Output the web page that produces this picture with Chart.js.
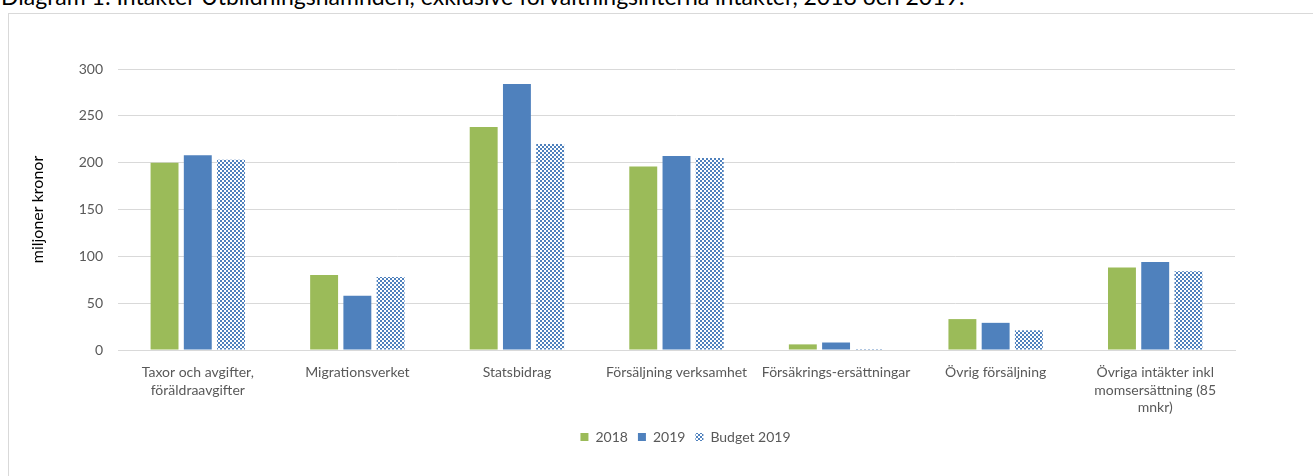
<!DOCTYPE html>
<html><head><meta charset="utf-8">
<script src="https://cdn.jsdelivr.net/npm/chart.js@4"></script>
<style>
html,body{margin:0;padding:0;background:#fff;overflow:hidden;width:1313px;height:476px;}
#title{position:absolute;left:1px;top:-18px;font:23px Lato,"Open Sans",sans-serif;color:#000;white-space:nowrap;}
#box{position:absolute;left:8px;top:13px;width:1320px;height:480px;border:1px solid #d9d9d9;box-sizing:border-box;}
#wrap{position:absolute;left:0;top:0;width:1313px;height:476px;}
</style></head>
<body>
<div id="title">Diagram 1: Intäkter Utbildningsnämnden, exklusive förvaltningsinterna intäkter, 2018 och 2019.</div>
<div id="box"></div>
<div id="wrap"><canvas id="c"></canvas></div>
<script>
const categories = [
  ["Taxor och avgifter,", "föräldraavgifter"],
  "Migrationsverket",
  "Statsbidrag",
  "Försäljning verksamhet",
  "Försäkrings-ersättningar",
  "Övrig försäljning",
  ["Övriga intäkter inkl", "momsersättning (85", "mnkr)"]
];
const seriesNames = ["2018", "2019", "Budget 2019"];
const values2018 = [200, 80, 238, 196, 6, 33, 88];
const values2019 = [208, 58, 284, 207, 8, 29, 94];
const valuesBudget2019 = [203, 78, 220, 205, 1, 21, 84];
const yTicks = [0, 50, 100, 150, 200, 250, 300];

function checker(color){
  const p = document.createElement('canvas');
  p.width = 4; p.height = 4;
  const g = p.getContext('2d');
  g.fillStyle = '#ffffff'; g.fillRect(0,0,4,4);
  g.fillStyle = color;
  g.fillRect(0,0,2,2); g.fillRect(2,2,2,2);
  return g.createPattern(p,'repeat');
}
const ctx = document.getElementById('c').getContext('2d');
const pat = checker('#4f81bd');
const FONT = 'Lato, "Open Sans", sans-serif';
const shiftLegend = {
  id: 'shiftLegend',
  afterLayout(chart){
    const l = chart.legend;
    if (l) { l.left += 68; l.right += 68; }
  }
};
new Chart(ctx, {
  type: 'bar',
  data: {
    labels: categories,
    datasets: [
      {label: seriesNames[0], data: values2018, backgroundColor: '#9bbb59'},
      {label: seriesNames[1], data: values2019, backgroundColor: '#4f81bd'},
      {label: seriesNames[2], data: valuesBudget2019, backgroundColor: pat}
    ]
  },
  plugins: [shiftLegend],
  options: {
    responsive: true, maintainAspectRatio: false, animation: false,
    devicePixelRatio: 1,
    layout: {padding: {left: 0, right: 78, top: 69, bottom: 22}},
    datasets: {bar: {categoryPercentage: 0.625, barPercentage: 0.84}},
    plugins: {
      tooltip: {enabled: false},
      legend: {
        position: 'bottom',
        labels: {boxWidth: 8, boxHeight: 8, padding: 10, color: '#595959', font: {family: FONT, size: 14}}
      }
    },
    scales: {
      x: {
        grid: {display: false, drawTicks: false},
        border: {color: '#d9d9d9', width: 1},
        ticks: {color: '#595959', font: {family: FONT, size: 14, lineHeight: 1.25}, padding: 14, maxRotation: 0, autoSkip: false},
        afterFit: s => { s.height = 70; }
      },
      y: {
        min: 0, max: 300,
        afterBuildTicks: s => { s.ticks = yTicks.map(v => ({value: v})); },
        grid: {color: '#d9d9d9', drawTicks: false},
        border: {display: false},
        ticks: {color: '#595959', font: {family: FONT, size: 14}, padding: 15},
        title: {display: true, text: 'miljoner kronor', color: '#000', font: {family: FONT, size: 16}, padding: {top: 28, bottom: 0}},
        afterFit: s => { s.width = 118; }
      }
    }
  }
});
</script>
</body></html>
